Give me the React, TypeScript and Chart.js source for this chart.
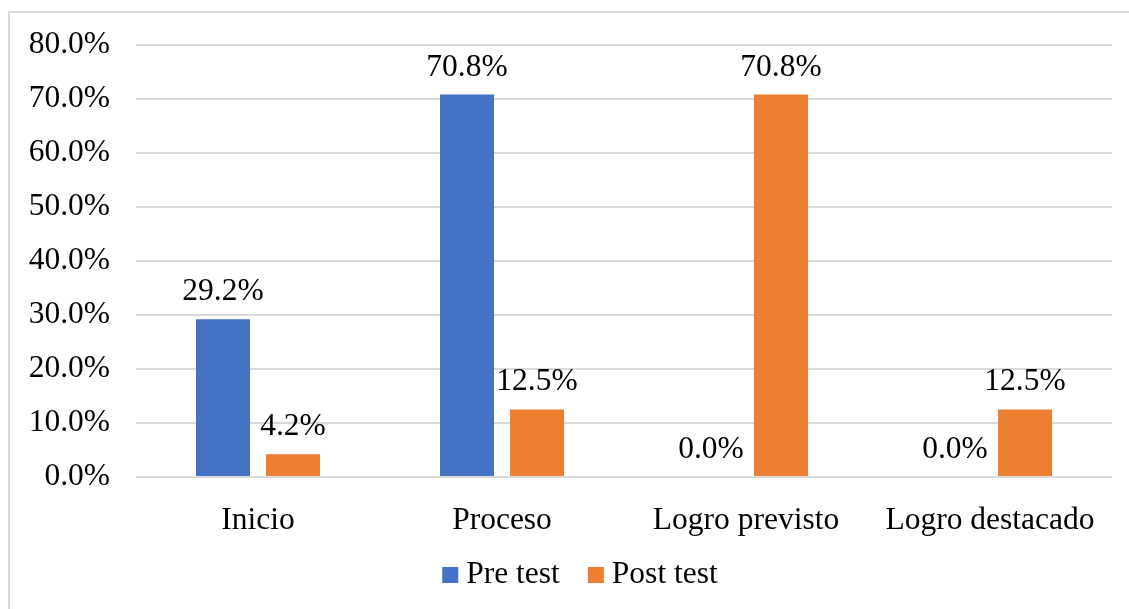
import React, { useEffect, useRef } from "react";
import { Chart, registerables } from "chart.js";

Chart.register(...registerables);

// Achievement levels and the share of students in each, before and after the programme
const categories = ["Inicio", "Proceso", "Logro previsto", "Logro destacado"];
const preTest = [29.2, 70.8, 0.0, 0.0];
const postTest = [4.2, 12.5, 70.8, 12.5];
const seriesNames = ["Pre test", "Post test"];
const yMin = 0;
const yMax = 80;
const yStep = 10;

const FONT_FAMILY = '"Liberation Serif", "Times New Roman", Times, serif';
const FONT_SIZE = 31.5;
const TEXT_COLOR = "#000000";
const GRID_COLOR = "#d9d9d9";
const BLUE = "#4472c4";
const ORANGE = "#ed7d31";

const W = 1129;
const H = 609;

const pct = (v: number) => Number(v).toFixed(1) + "%";

// Value above each bar
const valueLabels = {
  id: "valueLabels",
  afterDatasetsDraw(chart: any) {
    const ctx = chart.ctx;
    ctx.save();
    ctx.font = `${FONT_SIZE}px ${FONT_FAMILY}`;
    ctx.fillStyle = TEXT_COLOR;
    ctx.textAlign = "center";
    ctx.textBaseline = "alphabetic";
    chart.data.datasets.forEach((ds: any, i: number) => {
      const meta = chart.getDatasetMeta(i);
      meta.data.forEach((bar: any, j: number) => {
        ctx.fillText(pct(ds.data[j]), bar.x, bar.y - 19);
      });
    });
    ctx.restore();
  },
};

// Single-row legend under the category labels
const bottomLegend = {
  id: "bottomLegend",
  afterDraw(chart: any) {
    const ctx = chart.ctx;
    const box = 16;
    const gapText = 8;
    const gapItem = 28;
    ctx.save();
    ctx.font = `${FONT_SIZE}px ${FONT_FAMILY}`;
    const items = chart.data.datasets.map((ds: any) => ({
      label: ds.label as string,
      color: ds.backgroundColor as string,
      w: ctx.measureText(ds.label).width,
    }));
    const total =
      items.reduce((s: number, it: any) => s + box + gapText + it.w, 0) +
      gapItem * (items.length - 1);
    const { left, right, bottom } = chart.chartArea;
    const cx = (left + right) / 2 - 44;
    const boxTop = bottom + 90;
    const baseline = bottom + 106;
    let x = cx - total / 2;
    ctx.textAlign = "left";
    ctx.textBaseline = "alphabetic";
    items.forEach((it: any) => {
      ctx.fillStyle = it.color;
      ctx.fillRect(x, boxTop, box, box);
      x += box + gapText;
      ctx.fillStyle = TEXT_COLOR;
      ctx.fillText(it.label, x, baseline);
      x += it.w + gapItem;
    });
    ctx.restore();
  },
};

export default function App() {
  const canvasRef = useRef<HTMLCanvasElement | null>(null);

  useEffect(() => {
    const canvas = canvasRef.current;
    if (!canvas) return;
    const font = { family: FONT_FAMILY, size: FONT_SIZE };
    const chart = new Chart(canvas, {
      type: "bar",
      data: {
        labels: categories,
        datasets: [
          {
            label: seriesNames[0],
            data: preTest,
            backgroundColor: BLUE,
            categoryPercentage: 0.5738,
            barPercentage: 0.771,
          },
          {
            label: seriesNames[1],
            data: postTest,
            backgroundColor: ORANGE,
            categoryPercentage: 0.5738,
            barPercentage: 0.771,
          },
        ],
      },
      options: {
        responsive: false,
        animation: false,
        devicePixelRatio: 1,
        layout: { padding: { top: 43, right: 17, bottom: 52, left: 0 } },
        plugins: {
          legend: { display: false },
          tooltip: { enabled: false },
        },
        scales: {
          x: {
            grid: { display: false },
            border: { display: false },
            ticks: { font, color: TEXT_COLOR, padding: 17, maxRotation: 0, autoSkip: false },
            afterFit(scale: any) {
              scale.height = 80;
            },
          },
          y: {
            min: yMin,
            max: yMax,
            grid: { color: GRID_COLOR, lineWidth: 2, drawTicks: false },
            border: { display: false },
            ticks: {
              stepSize: yStep,
              font,
              color: TEXT_COLOR,
              padding: 26,
              callback: (v: any) => pct(v),
            },
            afterFit(scale: any) {
              scale.width = 136;
            },
          },
        },
      },
      plugins: [valueLabels, bottomLegend],
    });
    return () => chart.destroy();
  }, []);

  return (
    <div
      style={{
        position: "fixed",
        left: 0,
        top: 0,
        width: W,
        height: H,
        overflow: "hidden",
        background: "#ffffff",
      }}
    >
      <div
        style={{
          position: "absolute",
          left: 8,
          top: 11,
          width: 1200,
          height: 700,
          border: `2px solid ${GRID_COLOR}`,
          boxSizing: "border-box",
        }}
      />
      <canvas
        ref={canvasRef}
        width={W}
        height={H}
        style={{ position: "absolute", left: 0, top: 0, width: W, height: H }}
      />
    </div>
  );
}
